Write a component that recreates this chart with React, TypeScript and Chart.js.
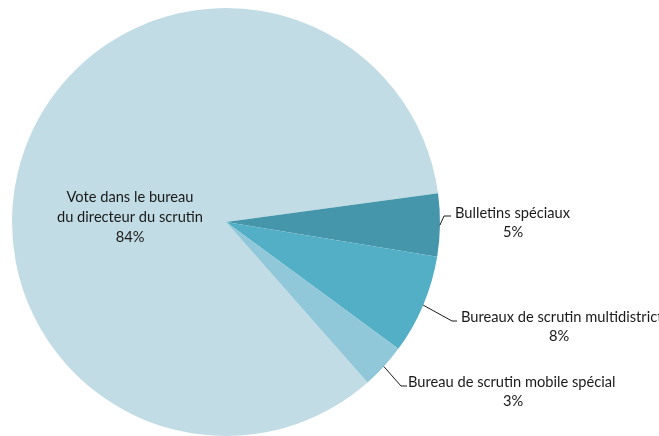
import React, { useEffect, useRef } from "react";
import { Chart, registerables } from "chart.js";

Chart.register(...registerables);

const categories = [
  "Vote dans le bureau du directeur du scrutin",
  "Bulletins spéciaux",
  "Bureaux de scrutin multidistrict",
  "Bureau de scrutin mobile spécial",
];
const values = [84.35, 4.75, 7.5, 3.4];
const labelLines = [
  ["Vote dans le bureau", "du directeur du scrutin", "84%"],
  ["Bulletins spéciaux", "5%"],
  ["Bureaux de scrutin multidistrict", "8%"],
  ["Bureau de scrutin mobile spécial", "3%"],
];
const colors = ["#c1dce4", "#4596ab", "#53afc5", "#90c8d9"];

// label layout: inside label centre, or elbow + text start for outside labels
const labelLayout = [
  { inside: true, cx: 130, cy: 197, lh: 20 },
  { elbowX: 444, elbowY: 216, endX: 451, textX: 455, textY: 213, centerX: 513, lh: 19 },
  { elbowX: 452, elbowY: 321, endX: 457, textX: 461, textY: 317, centerX: 559, lh: 19 },
  { elbowX: 401, elbowY: 386, endX: 407, textX: 408, textY: 382, centerX: 513, lh: 19 },
];

const FONT_FAMILY = "Lato, 'Open Sans', sans-serif";

const labelPlugin = {
  id: "pieLabels",
  afterDraw(chart: any) {
    const ctx = chart.ctx as CanvasRenderingContext2D;
    const meta = chart.getDatasetMeta(0);
    ctx.save();
    ctx.font = `14px ${FONT_FAMILY}`;
    const w = ctx.measureText("Bulletins spéciaux").width;
    const size = Math.max(10, Math.min(18, (14 * 115) / w));
    ctx.font = `${size.toFixed(2)}px ${FONT_FAMILY}`;
    ctx.fillStyle = "#1a1a1a";
    ctx.strokeStyle = "#1a1a1a";
    ctx.lineWidth = 1;
    ctx.textBaseline = "middle";
    meta.data.forEach((arc: any, i: number) => {
      const lay: any = labelLayout[i];
      const lines = labelLines[i];
      if (lay.inside) {
        ctx.textAlign = "center";
        lines.forEach((t, k) => ctx.fillText(t, lay.cx, lay.cy + k * lay.lh));
        return;
      }
      const p = arc.getProps(["x", "y", "startAngle", "endAngle", "outerRadius"], true);
      const mid = (p.startAngle + p.endAngle) / 2;
      const sx = p.x + Math.cos(mid) * p.outerRadius;
      const sy = p.y + Math.sin(mid) * p.outerRadius;
      ctx.beginPath();
      ctx.moveTo(sx, sy);
      ctx.lineTo(lay.elbowX, lay.elbowY);
      ctx.lineTo(lay.endX, lay.elbowY);
      ctx.stroke();
      ctx.textAlign = "left";
      ctx.fillText(lines[0], lay.textX, lay.textY);
      ctx.textAlign = "center";
      ctx.fillText(lines[1], lay.centerX, lay.textY + lay.lh);
    });
    ctx.restore();
  },
};

export default function App() {
  const ref = useRef<HTMLCanvasElement>(null);
  useEffect(() => {
    if (!ref.current) return;
    const chart = new Chart(ref.current, {
      type: "pie",
      data: {
        labels: categories,
        datasets: [
          {
            data: values,
            backgroundColor: colors,
            borderWidth: 0,
          },
        ],
      },
      options: {
        responsive: false,
        animation: false,
        rotation: 138.6,
        layout: { padding: { left: 11, top: 8, right: 218, bottom: -2 } },
        plugins: {
          legend: { display: false },
          tooltip: { enabled: false },
        },
      },
      plugins: [labelPlugin],
    });
    return () => chart.destroy();
  }, []);
  return (
    <div style={{ position: "fixed", left: 0, top: 0, width: 659, height: 436, background: "#fff" }}>
      <canvas ref={ref} width={659} height={436} style={{ display: "block" }} />
    </div>
  );
}
